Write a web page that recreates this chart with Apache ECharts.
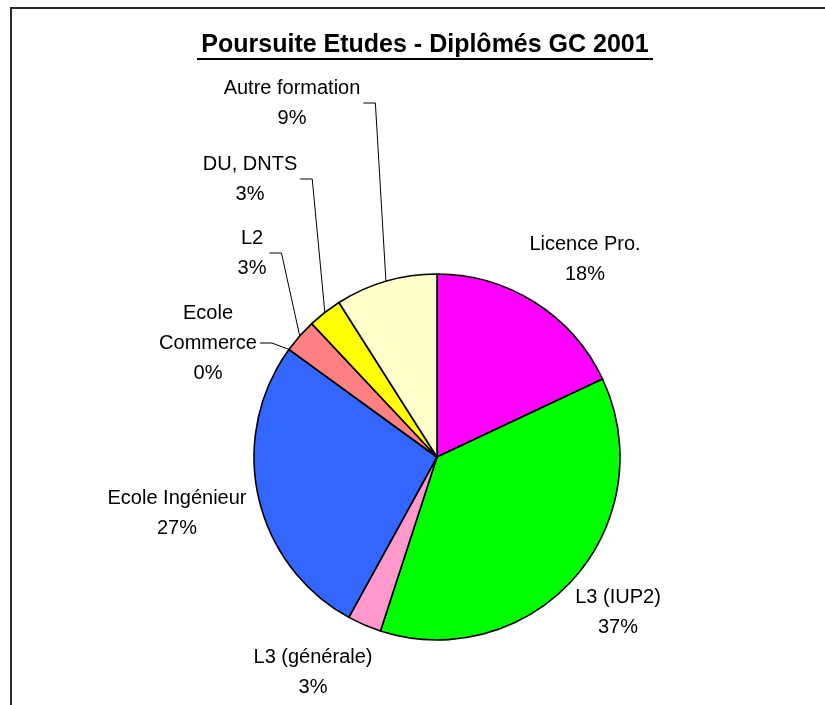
<!DOCTYPE html>
<html>
<head>
<meta charset="utf-8">
<script src="https://cdn.jsdelivr.net/npm/echarts@6/dist/echarts.min.js"></script>
<style>
html,body{margin:0;padding:0;background:#fff;}
#chart{width:825px;height:705px;}
</style>
</head>
<body>
<div id="chart"></div>
<script>
var titleText = 'Poursuite Etudes - Diplômés GC 2001';
var categories = ['Licence Pro.', 'L3 (IUP2)', 'L3 (générale)', 'Ecole Ingénieur', 'Ecole Commerce', 'L2', 'DU, DNTS', 'Autre formation'];
var labelNames = ['Licence Pro.', 'L3 (IUP2)', 'L3 (générale)', 'Ecole Ingénieur', 'Ecole\nCommerce', 'L2', 'DU, DNTS', 'Autre formation'];
var percentages = [18, 37, 3, 27, 0, 3, 3, 9];
var colors = ['#FF00FF', '#00FF00', '#FF99CC', '#3366FF', '#993366', '#FF8080', '#FFFF00', '#FFFFCC'];

var CX = 437, CY = 457, R = 183;
var FONT = '"Liberation Sans", Arial, sans-serif';
// label anchor positions (centre of text block) and whether a leader line is drawn
var labelPos = [
  {x: 585, y: 259, line: false},
  {x: 618, y: 612, line: false},
  {x: 313, y: 672, line: false},
  {x: 177, y: 513, line: false},
  {x: 208, y: 343, line: true},
  {x: 252, y: 253, line: true},
  {x: 250, y: 179, line: true},
  {x: 292, y: 103, line: true}
];

var total = percentages.reduce(function(a, b){ return a + b; }, 0);
var cum = [];
(function(){ var s = 0; for (var i = 0; i < percentages.length; i++) { cum.push(s); s += percentages[i]; } })();

var data = categories.map(function(c, i){
  return {
    name: c,
    value: percentages[i],
    itemStyle: {color: colors[i]},
    labelLine: {show: labelPos[i].line}
  };
});

var chart = echarts.init(document.getElementById('chart'), null, {renderer: 'canvas'});
chart.setOption({
  animation: false,
  backgroundColor: '#ffffff',
  graphic: [
    {type: 'rect', shape: {x: 11, y: 8, width: 900, height: 800}, style: {fill: 'none', stroke: '#2a2a2a', lineWidth: 2}, silent: true},
    {type: 'text', x: 425, y: 45, style: {text: titleText, fill: '#000', font: 'bold 25px ' + FONT, align: 'center', verticalAlign: 'middle'}},
    {type: 'line', shape: {x1: 197, y1: 59, x2: 653, y2: 59}, style: {stroke: '#000', lineWidth: 2}}
  ],
  series: [{
    type: 'pie',
    center: [CX, CY],
    radius: R,
    startAngle: 90,
    clockwise: true,
    avoidLabelOverlap: false,
    minShowLabelAngle: 0,
    itemStyle: {borderColor: '#000', borderWidth: 1.6},
    emphasis: {disabled: true},
    label: {
      show: true,
      position: 'outside',
      color: '#000',
      fontFamily: FONT,
      fontSize: 20,
      lineHeight: 30,
      align: 'center',
      formatter: function(p){ return labelNames[p.dataIndex] + '\n' + p.value + '%'; }
    },
    labelLine: {lineStyle: {color: '#000', width: 1}, length: 10, length2: 10},
    labelLayout: function(params){
      var i = params.dataIndex;
      var lp = labelPos[i];
      var res = {x: lp.x, y: lp.y, align: 'center', verticalAlign: 'middle'};
      if (lp.line) {
        var frac = (cum[i] + percentages[i] / 2) / total;
        var ang = frac * 2 * Math.PI;
        var ex = CX + R * Math.sin(ang);
        var ey = CY - R * Math.cos(ang);
        var w = params.labelRect.width;
        var endX = lp.x + w / 2 + 3;
        var elbowX = endX + 12;
        res.labelLinePoints = [[ex, ey], [elbowX, lp.y], [endX, lp.y]];
      }
      return res;
    },
    data: data
  }]
});
</script>
</body>
</html>
